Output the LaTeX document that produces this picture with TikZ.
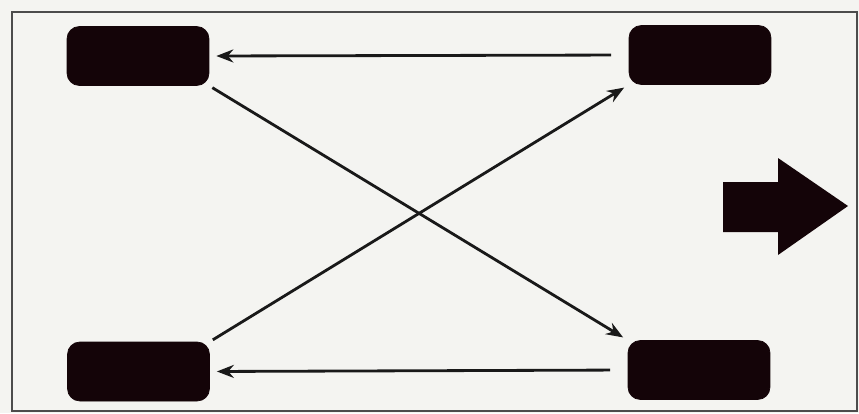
\documentclass[tikz,border=0pt]{standalone}
\usepackage{xcolor}
\usepackage{tikz}
\usetikzlibrary{positioning,arrows.meta}

\definecolor{tyre}{RGB}{20,4,8}
\definecolor{paper}{RGB}{244,244,241}

\begin{document}
\begin{tikzpicture}[x=0.02cm, y=-0.02cm,
  wheel/.style={fill=tyre, draw=tyre, rounded corners=7pt,
               minimum width=2.84cm, minimum height=1.18cm, inner sep=0pt},
  arr/.style={-{Stealth[length=3.4mm, width=2.6mm]}, line width=1.6pt, draw=black!90}]
\fill[paper] (0,0) rectangle (859,413);
\useasboundingbox (0,0) rectangle (859,413);
\draw[line width=1.3pt, black!70] (12,12) rectangle (857,411);
\node[wheel] (fl) at (138,56)    {};
\node[wheel] (fr) at (700,55)    {};
\node[wheel] (rl) at (138.5,371.5) {};
\node[wheel] (rr) at (699,370)   {};
\draw[arr, shorten <=10pt, shorten >=4pt] (fr.west) -- (fl.east);
\draw[arr, shorten <=10pt, shorten >=4pt] (rr.west) -- (rl.east);
\draw[arr, shorten <=2pt, shorten >=3pt] (fl.south east) -- (rr.north west);
\draw[arr, shorten <=2pt, shorten >=3pt] (rl.north east) -- (fr.south west);
% driving direction
\fill[tyre] (723,182) -- (778,182) -- (778,158) -- (848,206)
  -- (778,255) -- (778,232) -- (723,232) -- cycle;
\end{tikzpicture}
\end{document}
